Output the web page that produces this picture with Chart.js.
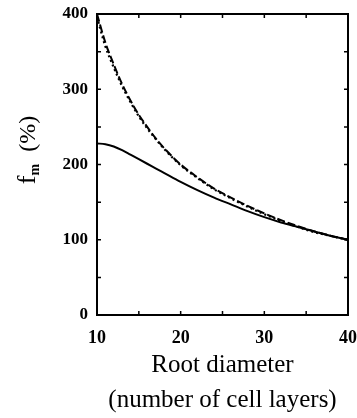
<!DOCTYPE html>
<html lang="en">
<head>
    <meta charset="UTF-8">
    <title>fm vs root diameter</title>
    <script src="https://cdn.jsdelivr.net/npm/chart.js"></script>
    <style>
        body { margin: 0; background: #fff; }
        canvas { display: block; }
    </style>
</head>
<body>
    <canvas id="fmChart" width="357" height="418"></canvas>

    <script>
        // values
        const diameters = [10, 11, 12, 13, 14, 15, 16, 17, 18, 20, 22, 24, 26, 28, 30, 32, 34, 36, 38, 40];
        const dashedFm = [400, 362, 333, 307, 285, 266, 250, 235, 222, 200, 183, 168, 156, 145, 135, 126, 118, 111, 105, 100];
        const dottedFm = [396, 357, 329, 304, 283, 264, 248, 234, 221, 199, 182, 167, 155, 144, 134, 125, 117, 110, 105, 100];
        const solidFm  = [228, 227, 224, 219, 213, 207, 201, 195, 189, 177, 166, 156, 147, 138, 130, 123, 117, 111, 105, 100];
        const xTicks = [10, 20, 30, 40];
        const yTicks = [0, 100, 200, 300, 400];

        const serif = "'Liberation Serif', 'Times New Roman', serif";

        function toPoints(ys) {
            return diameters.map((d, i) => ({ x: d, y: ys[i] }));
        }

        // frame, inward ticks and y title
        const framePlugin = {
            id: 'frame',
            afterDraw(chart) {
                const ctx = chart.ctx;
                const a = chart.chartArea;
                const xs = chart.scales.x;
                const ys = chart.scales.y;
                ctx.save();
                ctx.strokeStyle = '#000';
                ctx.lineWidth = 2;
                ctx.strokeRect(a.left, a.top, a.right - a.left, a.bottom - a.top);

                ctx.lineWidth = 1.5;
                ctx.beginPath();
                for (let v = 50; v < 400; v += 50) {
                    const py = ys.getPixelForValue(v);
                    ctx.moveTo(a.left, py); ctx.lineTo(a.left + 4, py);
                    ctx.moveTo(a.right, py); ctx.lineTo(a.right - 4, py);
                }
                for (let v = 15; v < 40; v += 5) {
                    const px = xs.getPixelForValue(v);
                    ctx.moveTo(px, a.bottom); ctx.lineTo(px, a.bottom - 4);
                    ctx.moveTo(px, a.top); ctx.lineTo(px, a.top + 4);
                }
                ctx.stroke();

                // y title: f with subscript m
                ctx.translate(27, 150);
                ctx.rotate(-Math.PI / 2);
                ctx.fillStyle = '#000';
                ctx.textBaseline = 'alphabetic';
                ctx.textAlign = 'left';
                ctx.font = '26px ' + serif;
                const fW = ctx.measureText('f').width;
                ctx.font = 'bold 14px ' + serif;
                const mW = ctx.measureText('m').width;
                ctx.font = '24px ' + serif;
                const pW = ctx.measureText('(%)').width;
                const gap = 12;
                const total = fW + mW + gap + pW;
                const x0 = -total / 2;
                ctx.font = '26px ' + serif;
                ctx.fillText('f', x0, 8);
                ctx.font = 'bold 14px ' + serif;
                ctx.fillText('m', x0 + fW, 12);
                ctx.font = '24px ' + serif;
                ctx.fillText('(%)', x0 + fW + mW + gap, 8);
                ctx.restore();
            }
        };

        new Chart(document.getElementById('fmChart').getContext('2d'), {
            type: 'line',
            data: {
                datasets: [
                    {
                        label: 'dashed',
                        data: toPoints(dashedFm),
                        borderColor: '#000',
                        borderWidth: 2,
                        borderDash: [8, 3],
                        pointRadius: 0,
                        cubicInterpolationMode: 'monotone',
                        fill: false
                    },
                    {
                        label: 'dotted',
                        data: toPoints(dottedFm),
                        borderColor: '#000',
                        borderWidth: 2.2,
                        borderDash: [2, 3],
                        pointRadius: 0,
                        cubicInterpolationMode: 'monotone',
                        fill: false
                    },
                    {
                        label: 'solid',
                        data: toPoints(solidFm),
                        borderColor: '#000',
                        borderWidth: 2,
                        pointRadius: 0,
                        cubicInterpolationMode: 'monotone',
                        fill: false
                    }
                ]
            },
            options: {
                responsive: false,
                animation: false,
                layout: { padding: { left: 0, top: 14, right: 9, bottom: 0 } },
                plugins: {
                    legend: { display: false },
                    tooltip: { enabled: false }
                },
                scales: {
                    x: {
                        type: 'linear',
                        min: 10,
                        max: 40,
                        afterBuildTicks: s => { s.ticks = xTicks.map(v => ({ value: v })); },
                        afterFit: s => { s.height = 103; s.paddingLeft = 0; s.paddingRight = 0; },
                        grid: { display: false, drawTicks: false },
                        border: { display: false },
                        ticks: {
                            color: '#000',
                            padding: 13,
                            maxRotation: 0,
                            font: { family: serif, size: 18, weight: 'bold' }
                        },
                        title: {
                            display: true,
                            text: ['Root diameter', '(number of cell layers)'],
                            color: '#000',
                            padding: { top: 6, bottom: 0 },
                            font: { family: serif, size: 25, lineHeight: 1.4 }
                        }
                    },
                    y: {
                        min: 0,
                        max: 400,
                        afterBuildTicks: s => { s.ticks = yTicks.map(v => ({ value: v })); },
                        afterFit: s => { s.width = 97; s.paddingTop = 0; s.paddingBottom = 0; },
                        grid: { display: false, drawTicks: false },
                        border: { display: false },
                        ticks: {
                            color: '#000',
                            padding: 9,
                            font: { family: serif, size: 17, weight: 'bold' }
                        }
                    }
                }
            },
            plugins: [framePlugin]
        });
    </script>
</body>
</html>
